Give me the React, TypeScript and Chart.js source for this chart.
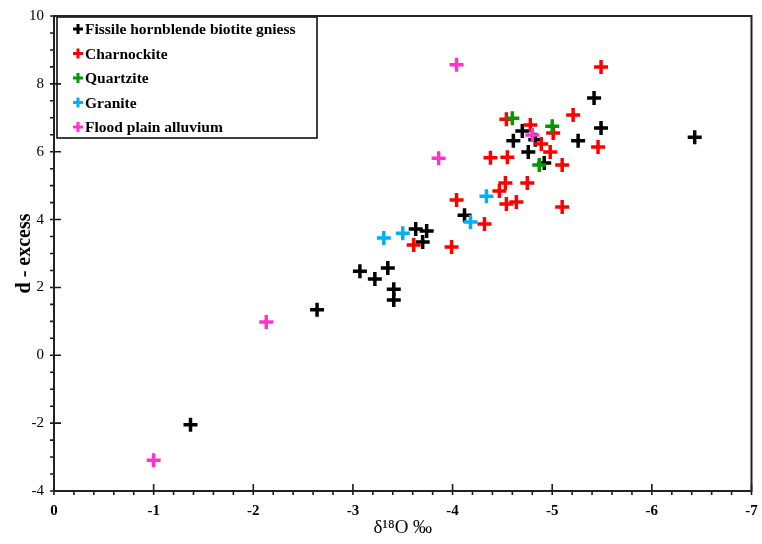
import React, { useEffect, useRef } from 'react';
import { Chart, registerables } from 'chart.js';

Chart.register(...registerables);

const FONT = "'Liberation Serif', 'DejaVu Serif', serif";

const seriesNames = [
  'Fissile hornblende biotite gniess',
  'Charnockite',
  'Quartzite',
  'Granite',
  'Flood plain alluvium',
];
const seriesColors = ['#000000', '#ff0000', '#009a00', '#00b0f0', '#ff33cc'];

const gneissX = [-1.37, -2.64, -3.07, -3.22, -3.35, -3.41, -3.41, -3.63, -3.74, -3.70, -4.12, -4.70, -4.61, -4.76, -4.83, -4.92, -5.26, -5.42, -5.49, -6.43];
const gneissY = [-2.05, 1.34, 2.48, 2.25, 2.57, 1.95, 1.63, 3.72, 3.66, 3.34, 4.13, 6.61, 6.32, 5.99, 6.35, 5.67, 6.32, 7.58, 6.70, 6.43];

const charnockiteX = [-5.49, -5.21, -4.54, -4.78, -5.01, -4.89, -4.98, -5.10, -5.46, -4.38, -4.55, -4.04, -4.53, -4.75, -4.47, -4.54, -4.64, -5.10, -4.32, -3.61, -3.99];
const charnockiteY = [8.50, 7.08, 6.96, 6.79, 6.55, 6.23, 5.99, 5.61, 6.14, 5.82, 5.84, 4.58, 5.08, 5.08, 4.84, 4.46, 4.52, 4.37, 3.87, 3.25, 3.19];

const quartziteX = [-4.60, -5.00, -4.87];
const quartziteY = [6.99, 6.75, 5.61];

const graniteX = [-3.31, -3.50, -4.18, -4.34];
const graniteY = [3.46, 3.60, 3.93, 4.69];

const alluviumX = [-1.00, -2.13, -4.04, -3.86, -4.80];
const alluviumY = [-3.09, 0.98, 8.56, 5.81, 6.49];

const seriesX = [gneissX, charnockiteX, quartziteX, graniteX, alluviumX];
const seriesY = [gneissY, charnockiteY, quartziteY, graniteY, alluviumY];

const xMin = -7;
const xMax = 0;
const xMajorStep = 1;
const xMinorStep = 0.2;
const yMin = -4;
const yMax = 10;
const yMajorStep = 2;
const yMinorStep = 0.5;

const xTitle = 'δ¹⁸O ‰';
const yTitle = 'd - excess';

const frameTicksPlugin = {
  id: 'frameTicks',
  afterDraw(chart: any) {
    const { ctx, chartArea: ca } = chart;
    const xs = chart.scales.x;
    const ys = chart.scales.y;
    ctx.save();
    ctx.strokeStyle = '#1a1a1a';
    ctx.lineWidth = 1.6;
    ctx.beginPath();
    const nx = Math.round((xMax - xMin) / xMinorStep);
    for (let i = 0; i <= nx; i++) {
      const v = xMax - i * xMinorStep;
      const px = xs.getPixelForValue(v);
      const major = Math.abs(v / xMajorStep - Math.round(v / xMajorStep)) < 1e-6;
      ctx.moveTo(px, ca.bottom + 4);
      ctx.lineTo(px, major ? ca.bottom - 7 : ca.bottom);
    }
    const ny = Math.round((yMax - yMin) / yMinorStep);
    for (let i = 0; i <= ny; i++) {
      const v = yMin + i * yMinorStep;
      const py = ys.getPixelForValue(v);
      const major = Math.abs(v / yMajorStep - Math.round(v / yMajorStep)) < 1e-6;
      ctx.moveTo(ca.left - 4, py);
      ctx.lineTo(major ? ca.left + 7 : ca.left, py);
    }
    ctx.stroke();
    ctx.lineWidth = 2;
    ctx.strokeStyle = '#222';
    ctx.strokeRect(ca.left, ca.top, ca.right - ca.left, ca.bottom - ca.top);
    ctx.restore();
  },
};

const boxLegendPlugin = {
  id: 'boxLegend',
  afterDatasetsDraw(chart: any) {
    const { ctx, chartArea: ca } = chart;
    const bx = ca.left + 3;
    const by = ca.top + 1;
    const bw = 260;
    const bh = 121;
    ctx.save();
    ctx.fillStyle = '#ffffff';
    ctx.fillRect(bx, by, bw, bh);
    ctx.strokeStyle = '#000';
    ctx.lineWidth = 1.5;
    ctx.strokeRect(bx, by, bw, bh);
    chart.data.datasets.forEach((ds: any, i: number) => {
      const cy = by + 12 + i * 24.5;
      const cx = bx + 21;
      ctx.strokeStyle = ds.borderColor;
      ctx.lineWidth = 3;
      ctx.beginPath();
      ctx.moveTo(cx - 5, cy);
      ctx.lineTo(cx + 5, cy);
      ctx.moveTo(cx, cy - 5);
      ctx.lineTo(cx, cy + 5);
      ctx.stroke();
      ctx.fillStyle = '#000';
      ctx.font = `bold 15.5px ${FONT}`;
      ctx.textAlign = 'left';
      ctx.textBaseline = 'middle';
      ctx.fillText(ds.label, bx + 28, cy + 1);
    });
    ctx.restore();
  },
};

export default function App() {
  const ref = useRef<HTMLCanvasElement | null>(null);

  useEffect(() => {
    if (!ref.current) return;
    const datasets = seriesNames.map((name, i) => ({
      label: name,
      data: seriesX[i].map((x, j) => ({ x, y: seriesY[i][j] })),
      borderColor: seriesColors[i],
      backgroundColor: seriesColors[i],
      pointStyle: 'cross',
      pointRadius: 7,
      pointHoverRadius: 7,
      pointBorderWidth: 3.5,
      showLine: false,
      order: seriesNames.length - i,
    }));
    const chart = new Chart(ref.current, {
      type: 'scatter',
      data: { datasets } as any,
      plugins: [boxLegendPlugin, frameTicksPlugin],
      options: {
        responsive: false,
        animation: false,
        layout: { padding: { top: 16, right: 5, left: 0, bottom: 0 } },
        plugins: {
          legend: { display: false },
          tooltip: { enabled: false },
        },
        scales: {
          x: {
            type: 'linear',
            min: xMin,
            max: xMax,
            reverse: true,
            afterFit: (s: any) => {
              s.height = 53;
              s.paddingLeft = 0;
              s.paddingRight = 0;
            },
            grid: { display: false, drawTicks: false },
            border: { display: false },
            ticks: {
              stepSize: xMajorStep,
              color: '#000',
              padding: 11,
              maxRotation: 0,
              font: { family: FONT, size: 15, weight: 'bold' },
            },
            title: {
              display: true,
              text: xTitle,
              color: '#000',
              font: { family: FONT, size: 19 },
              padding: { top: 0, bottom: 5 },
            },
          },
          y: {
            type: 'linear',
            min: yMin,
            max: yMax,
            afterFit: (s: any) => {
              s.width = 54;
              s.paddingTop = 0;
              s.paddingBottom = 0;
            },
            grid: { display: false, drawTicks: false },
            border: { display: false },
            ticks: {
              stepSize: yMajorStep,
              color: '#000',
              padding: 10,
              font: { family: FONT, size: 15 },
            },
            title: {
              display: true,
              text: yTitle,
              color: '#000',
              font: { family: FONT, size: 20, weight: 'bold' },
              padding: { top: 13, bottom: 0 },
            },
          },
        },
      } as any,
    });
    return () => chart.destroy();
  }, []);

  return (
    <div style={{ position: 'fixed', left: 0, top: 0, width: 762, height: 544, background: '#fff' }}>
      <canvas ref={ref} width={762} height={544} />
    </div>
  );
}
